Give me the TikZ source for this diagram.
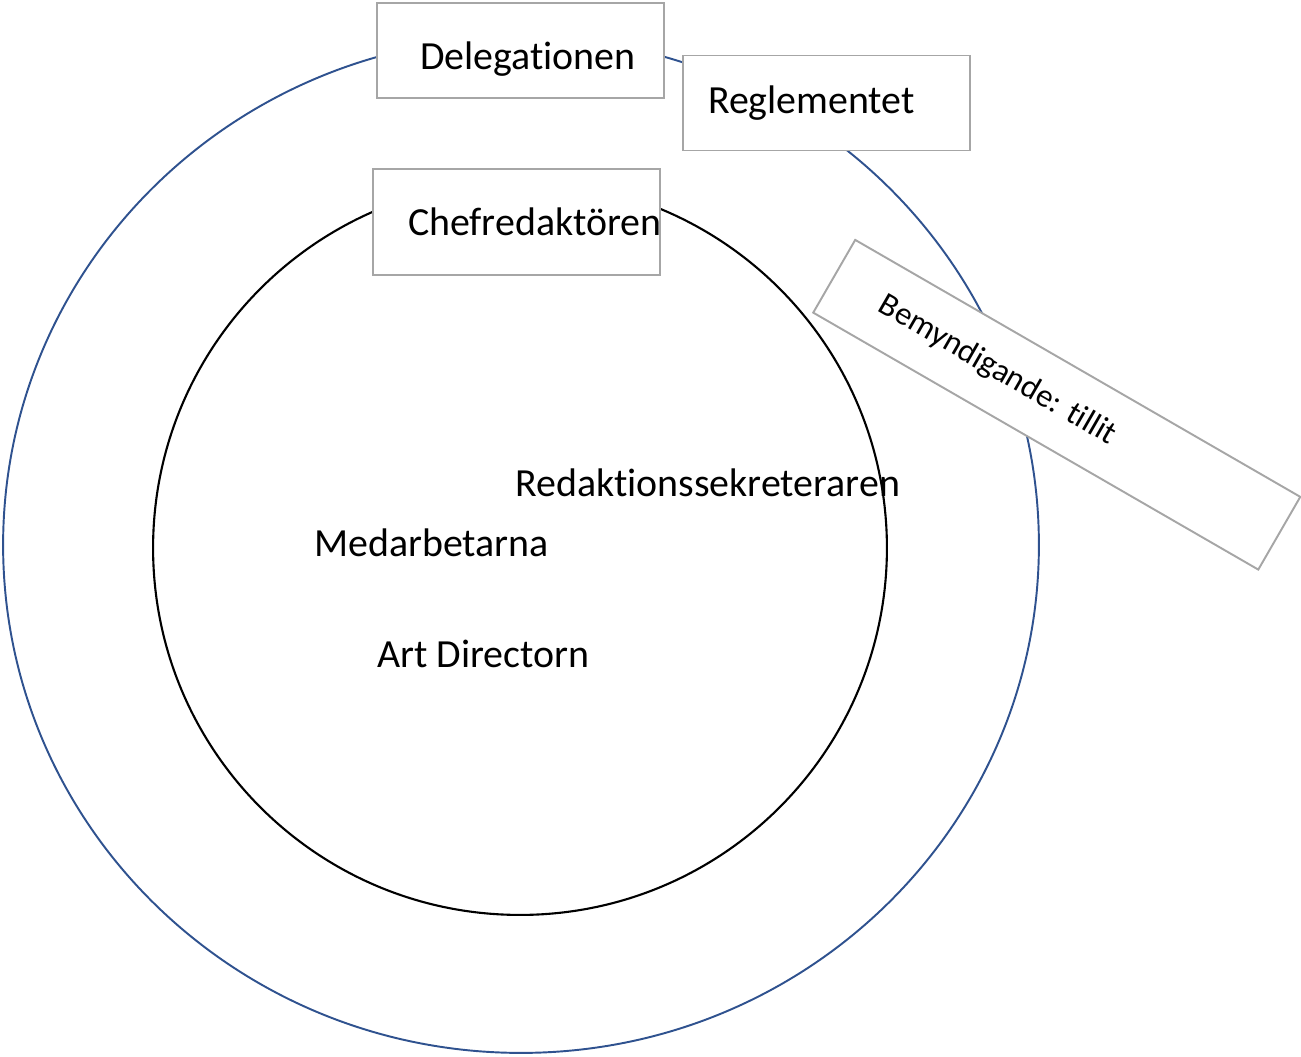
\documentclass[tikz,border=0pt]{standalone}
\usepackage{fontspec}
\setmainfont{Carlito}[Ligatures=NoCommon]
\frenchspacing
\definecolor{blue1}{RGB}{47,82,143}
\definecolor{gray1}{RGB}{166,166,166}
\tikzstyle{block} = [rectangle, draw=gray1, line width=1.1pt, fill=white, minimum width=5.74cm, minimum height=1.9cm, inner xsep=0pt, align=left, font=\fontsize{22.7}{27}\selectfont]
\tikzstyle{word} = [inner sep=0pt, anchor=base west, font=\fontsize{22.7}{27}\selectfont]

\begin{document}
\begin{tikzpicture}[x=0.02cm, y=-0.02cm]
	\useasboundingbox (0,0) rectangle (1301,1057);
	% Rings
	\draw [blue1, line width=1.1pt] (521,545) ellipse [x radius=10.36cm, y radius=10.16cm];
	\draw [black, line width=1.2pt] (520,548) circle [radius=7.34cm];

	% Boxes
	\node [block, text width=4.02cm, text height=0.88cm] (Del) at (520.5,50.5) {Delegationen};
	\node [block, text width=4.74cm] (Reg) at (826.5,103) {Reglementet};
	\node [block, text width=4.34cm, minimum height=2.12cm] (Chef) at (516.5,222) {Chefredaktören};
	\node [block, text width=8.12cm, minimum width=10.28cm, minimum height=1.68cm, rotate=-30, font=\fontsize{18.6}{22}\selectfont] (Bem) at (1056.75,404.75) {Bemyndigande: tillit};

	% Inner roles
	\node [word] (Red) at (515,496) {Redaktionssekreteraren};
	\node [word] (Med) at (314,556) {Medarbetarna};
	\node [word] (Art) at (377,667) {Art Directorn};
\end{tikzpicture}
\end{document}
